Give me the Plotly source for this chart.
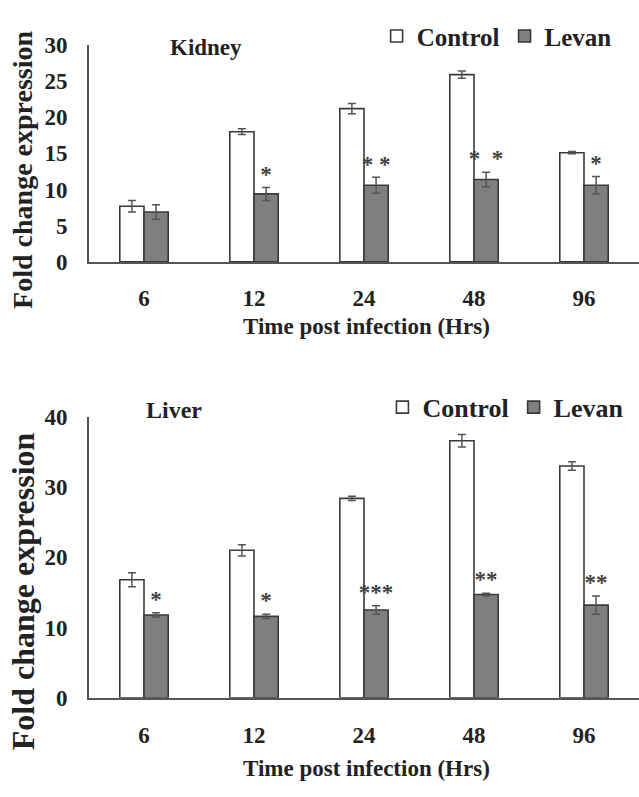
import plotly.graph_objects as go

# ---------------- data ----------------
times = ["6", "12", "24", "48", "96"]

kidney_control = [7.7, 18.0, 21.2, 25.9, 15.1]
kidney_control_err = [0.8, 0.4, 0.7, 0.5, 0.15]
kidney_levan = [6.9, 9.4, 10.6, 11.4, 10.6]
kidney_levan_err = [1.0, 0.9, 1.1, 1.0, 1.2]
kidney_sig = ["", "*", "* *", "*  *", "*"]

liver_control = [16.8, 21.0, 28.4, 36.6, 33.0]
liver_control_err = [1.0, 0.8, 0.3, 0.9, 0.6]
liver_levan = [11.8, 11.6, 12.5, 14.7, 13.2]
liver_levan_err = [0.3, 0.3, 0.6, 0.2, 1.3]
liver_sig = ["*", "*", "***", "**", "**"]

# ---------------- style ----------------
FONT = "Liberation Serif"
TXT = "#222222"
EDGE = "#3a3a3a"
ERR = "#555555"
W = 0.22
pos = list(range(len(times)))

fig = go.Figure()


def add_panel(ctrl, ctrl_err, lev, lev_err, sig, xa, ya, leg):
    fig.add_trace(go.Bar(
        x=pos, y=ctrl, width=W, offset=-W, name="<b>Control</b>",
        marker=dict(color="white", line=dict(color=EDGE, width=1.6)),
        error_y=dict(type="data", array=ctrl_err, color=ERR, thickness=1.5, width=4),
        xaxis=xa, yaxis=ya, legend=leg))
    fig.add_trace(go.Bar(
        x=pos, y=lev, width=W, offset=0, name="<b>Levan</b>",
        marker=dict(color="#7f7f7f", line=dict(color=EDGE, width=1.6)),
        error_y=dict(type="data", array=lev_err, color=ERR, thickness=1.5, width=4),
        xaxis=xa, yaxis=ya, legend=leg))
    fig.add_trace(go.Scatter(
        x=[p + W / 2 for p in pos], y=[v + e for v, e in zip(lev, lev_err)],
        text=["<b>%s</b>" % s if s else "" for s in sig], mode="text",
        textposition="top center",
        textfont=dict(family=FONT, size=23, color="#444444"),
        showlegend=False, hoverinfo="skip", xaxis=xa, yaxis=ya))


add_panel(kidney_control, kidney_control_err, kidney_levan, kidney_levan_err,
          kidney_sig, "x", "y", "legend")
add_panel(liver_control, liver_control_err, liver_levan, liver_levan_err,
          liver_sig, "x2", "y2", "legend2")

H = 797.0
WID = 639.0


def py(pix):
    return 1 - pix / H


xdom = [89.0 / WID, 1.0]
tickfont = dict(family=FONT, size=23, color=TXT, weight="bold")
axis_common = dict(showline=True, linecolor="#555555", linewidth=2, showgrid=False,
                   zeroline=False, ticks="", fixedrange=True, tickfont=tickfont)

fig.update_layout(
    width=639, height=797,
    margin=dict(l=0, r=0, t=0, b=0),
    paper_bgcolor="white", plot_bgcolor="white",
    barmode="overlay",
    font=dict(family=FONT, color=TXT),
    xaxis=dict(domain=xdom, anchor="y", range=[-0.5, 4.5], tickvals=pos, ticktext=times,
               ticklabelstandoff=14, **axis_common),
    yaxis=dict(domain=[py(258), py(34)], anchor="x", range=[0, 30], dtick=5,
               ticklabelstandoff=15, **axis_common),
    xaxis2=dict(domain=xdom, anchor="y2", range=[-0.5, 4.5], tickvals=pos, ticktext=times,
                ticklabelstandoff=16, **axis_common),
    yaxis2=dict(domain=[py(708), py(418)], anchor="x2", range=[0, 40], dtick=10,
                ticklabelstandoff=15, **axis_common),
    legend=dict(orientation="h", x=0.965, y=py(25), xanchor="right", yanchor="middle",
                font=dict(family=FONT, size=25, color=TXT), bgcolor="rgba(0,0,0,0)",
                itemwidth=30, traceorder="normal"),
    legend2=dict(orientation="h", x=0.985, y=py(408), xanchor="right", yanchor="middle",
                 font=dict(family=FONT, size=26, color=TXT), bgcolor="rgba(0,0,0,0)",
                 itemwidth=30, traceorder="normal"),
    showlegend=True,
)

ann = [
    dict(text="<b>Kidney</b>", x=206 / WID, y=py(37), size=23, angle=0),
    dict(text="<b>Liver</b>", x=174 / WID, y=py(411), size=24, angle=0),
    dict(text="<b>Fold change expression</b>", x=23 / WID, y=py(163), size=28, angle=-90),
    dict(text="<b>Fold change expression</b>", x=23 / WID, y=py(598), size=32, angle=-90),
    dict(text="<b>Time post infection (Hrs)</b>", x=366 / WID, y=py(325), size=23, angle=0),
    dict(text="<b>Time post infection (Hrs)</b>", x=366 / WID, y=py(781), size=23, angle=0),
]
for a in ann:
    fig.add_annotation(text=a["text"], x=a["x"], y=a["y"], xref="paper", yref="paper",
                       xanchor="center", yanchor="middle", showarrow=False,
                       textangle=a["angle"], font=dict(family=FONT, size=a["size"], color=TXT))

fig.write_html("out.html")
